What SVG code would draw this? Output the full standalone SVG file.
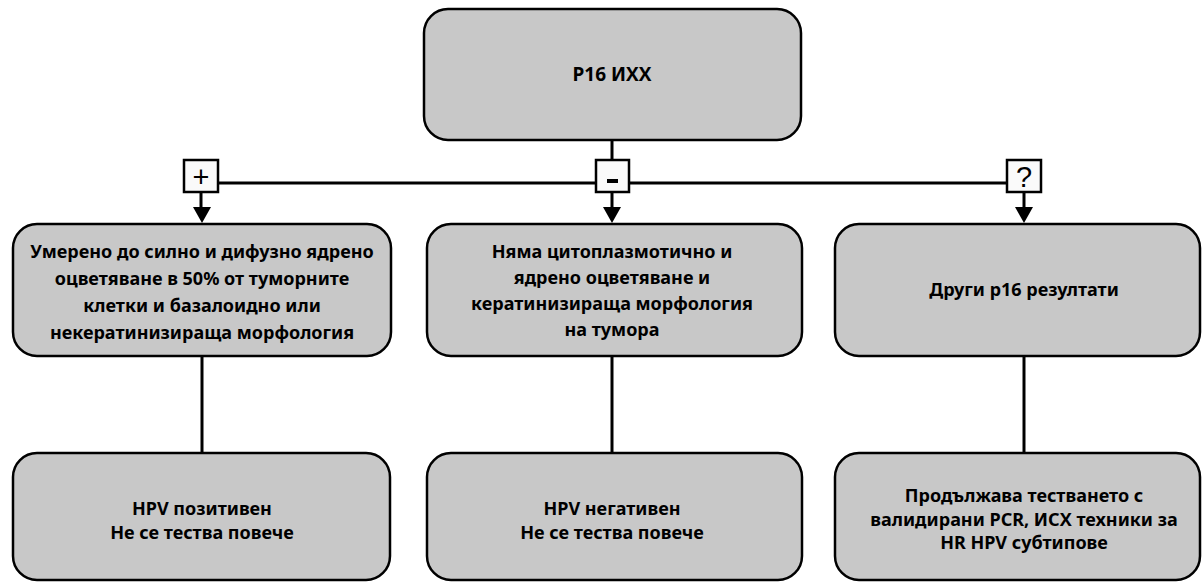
<svg xmlns="http://www.w3.org/2000/svg" width="1203" height="583" viewBox="0 0 1203 583">
<defs>
<style>
.box{fill:#c8c8c8;stroke:#000;stroke-width:2.5}
.lbl{fill:#fafafa;stroke:#000;stroke-width:2.5}
.t{font-family:"Noto Sans","Open Sans",sans-serif;font-weight:bold;font-size:18px;fill:#000;text-anchor:middle}
.s{font-family:"Liberation Sans",Arial,sans-serif;font-size:29px;fill:#000;text-anchor:middle}
.c{stroke:#000;stroke-width:3;fill:none}
</style>
</defs>
<g id="connectors">
<line class="c" x1="612" y1="140" x2="612" y2="160"/>
<line class="c" x1="218" y1="183" x2="1007" y2="183"/>
<path d="M201,192 V207" class="c"/>
<path d="M193,207 L211,207 L202,223 Z" fill="#000"/>
<path d="M612,192 V207" class="c"/>
<path d="M603,207 L621,207 L612,223 Z" fill="#000"/>
<path d="M1024,192 V207" class="c"/>
<path d="M1015,207 L1033,207 L1024,223 Z" fill="#000"/>
<line class="c" x1="202" y1="356" x2="202" y2="453"/>
<line class="c" x1="612" y1="356" x2="612" y2="453"/>
<line class="c" x1="1024" y1="356" x2="1024" y2="453"/>
<g id="lbl-plus"><rect class="lbl" x="184" y="160" width="34" height="32"/><text class="s" x="201" y="187">+</text></g>
<g id="lbl-minus"><rect class="lbl" x="596" y="160" width="33" height="32"/><rect x="607" y="179" width="11" height="4" fill="#000"/></g>
<g id="lbl-q"><rect class="lbl" x="1007" y="160" width="34" height="32"/><text class="s" x="1024" y="187">?</text></g>
</g>
<g id="n-top"><rect class="box" x="424" y="9" width="377" height="131" rx="24"/><text class="t" x="612" y="81" style="font-size:19px">P16 ИХХ</text></g>
<g id="n-pos"><rect class="box" x="13" y="224" width="378" height="132" rx="24"/>
<text class="t" x="202" y="258">Умерено до силно и дифузно ядрено</text>
<text class="t" x="202" y="285">оцветяване в 50% от туморните</text>
<text class="t" x="202" y="312">клетки и базалоидно или</text>
<text class="t" x="202" y="339">некератинизираща морфология</text></g>
<g id="n-neg"><rect class="box" x="427" y="224" width="375" height="132" rx="24"/>
<text class="t" x="612" y="258">Няма цитоплазмотично и</text>
<text class="t" x="612" y="284">ядрено оцветяване и</text>
<text class="t" x="612" y="310">кератинизираща морфология</text>
<text class="t" x="612" y="336">на тумора</text></g>
<g id="n-other"><rect class="box" x="835" y="224" width="365" height="132" rx="24"/>
<text class="t" x="1024" y="296">Други p16 резултати</text></g>
<g id="n-hpvpos"><rect class="box" x="13" y="453" width="377" height="127" rx="24"/>
<text class="t" x="202" y="515">HPV позитивен</text>
<text class="t" x="202" y="539">Не се тества повече</text></g>
<g id="n-hpvneg"><rect class="box" x="427" y="453" width="375" height="127" rx="24"/>
<text class="t" x="612" y="515">HPV негативен</text>
<text class="t" x="612" y="539">Не се тества повече</text></g>
<g id="n-cont"><rect class="box" x="835" y="453" width="365" height="127" rx="24"/>
<text class="t" x="1024" y="502">Продължава тестването с</text>
<text class="t" x="1024" y="526">валидирани PCR, ИСХ техники за</text>
<text class="t" x="1024" y="549">HR HPV субтипове</text></g>
</svg>
